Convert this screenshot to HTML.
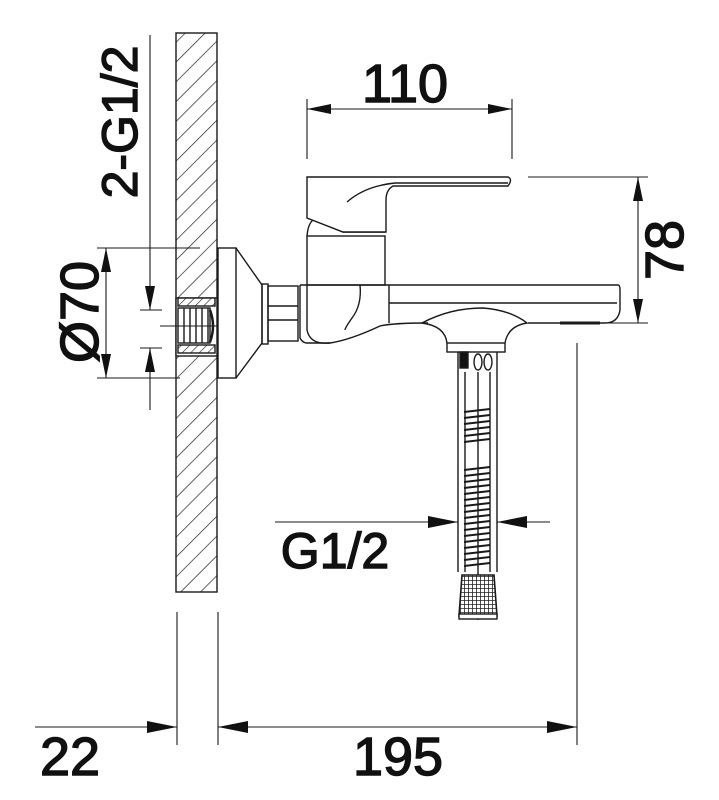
<!DOCTYPE html>
<html><head><meta charset="utf-8"><style>
html,body{margin:0;padding:0;background:#fff;}
svg{display:block;}
text{font-family:"Liberation Sans",sans-serif;fill:#111;stroke:#111;stroke-width:1.4;}
</style></head><body>
<svg width="719" height="800" viewBox="0 0 719 800" xmlns="http://www.w3.org/2000/svg">
<defs>
<pattern id="h" patternUnits="userSpaceOnUse" width="14" height="14" patternTransform="rotate(45)">
<rect width="14" height="14" fill="#fff"/><line x1="0" y1="0" x2="0" y2="14" stroke="#222" stroke-width="1.4"/>
</pattern>
<pattern id="h2" patternUnits="userSpaceOnUse" width="6" height="6" patternTransform="rotate(45)">
<rect width="6" height="6" fill="#fff"/><line x1="0" y1="0" x2="0" y2="6" stroke="#222" stroke-width="1.2"/>
</pattern>
<pattern id="mesh" patternUnits="userSpaceOnUse" width="4" height="4">
<rect width="4" height="4" fill="#fff"/><path d="M0 0H4M0 0V4" stroke="#222" stroke-width="1.6"/>
</pattern>
</defs>
<g fill="none" stroke="#1a1a1a" stroke-width="1.4">
<rect x="176" y="33" width="41" height="559" fill="url(#h)"/>
<rect x="176" y="298" width="41" height="58" fill="#fff"/>
<rect x="178" y="298" width="37" height="8" fill="url(#h2)"/>
<rect x="178" y="345" width="37" height="8" fill="url(#h2)"/>
<rect x="178" y="308" width="32" height="35" fill="#fff"/>
<path d="M184 308V343M190 308V343M196 308V343M202 308V343M208 308V343"/>
<path d="M210 310 Q216 326 210 342" stroke-width="2.5"/>
<path d="M160 326H232" stroke-width="1"/>
<rect x="218" y="248" width="18" height="130" fill="#fff"/>
<path d="M236 248 L262 285 L262 343 L236 378"/>
<rect x="262" y="284" width="6" height="60"/>
<rect x="268" y="286" width="30" height="55"/>
<path d="M268 306H298M268 320H298"/>
<path d="M300 285 H618 Q620 285 620 290 V310 Q618 323 605 323 H528"/>
<path d="M389 303 H617"/>
<path d="M300 285 V338 Q302 342 306 343 L330 343 Q350 340 380 326 Q392 323 428 323"/>
<path d="M389 285 V323"/>
<path d="M307 285 V330 Q310 345 330 343"/>
<path d="M360 285 Q362 305 352 318 Q345 328 345 330"/>
<path d="M560 323 H600" stroke-width="3"/>
<rect x="307" y="236" width="78" height="49"/>
<path d="M307 236 Q308 224 313 220 L343 232 L385 232"/>
<path d="M307 177 H508 Q513 179 508 186 H393 Q386 190 386 200 V232 L343 232 L307 218 Z" fill="#fff"/>
<path d="M347 202 Q365 186 395 183 H508"/>
<path d="M422 323 Q450 308 483 308 Q510 310 527 323 Q508 326 505 343 M422 323 Q445 326 447 343"/>
<rect x="447" y="343" width="58" height="9"/>
<path d="M458 352 V572 M497 352 V572 M465 372 V572 M490 372 V572"/>
<rect x="460" y="352" width="8" height="16" fill="#111"/>
<ellipse cx="478" cy="362" rx="4" ry="8"/><ellipse cx="488" cy="362" rx="4" ry="8"/>
<path d="M464 412l26-3M464 418l26-3M464 424l26-3M464 430l26-3M464 436l26-3M464 442l26-3M464 470l26-3M464 476l26-3M464 482l26-3M464 488l26-3M464 494l26-3M464 500l26-3M464 506l26-3M464 512l26-3M464 518l26-3M464 524l26-3M464 530l26-3M464 536l26-3M464 542l26-3M464 548l26-3M464 554l26-3M464 560l26-3M464 566l26-3" stroke-width="2"/>
<path d="M478 372 V620"/>
<path d="M462 575 H494 L497 616 H459 Z" fill="url(#mesh)" stroke-width="1.6"/>
<rect x="459" y="614" width="38" height="5" fill="#fff"/>
<g stroke-width="1.1">
<path d="M307 99V159M512 99V159M307 109H512"/>
<path d="M528 177H648M568 323H648M638 177V323"/>
<path d="M97 248H200M97 378H180M106 248V378"/>
<path d="M150 35V310M140 310H162M140 348H162M150 348V410"/>
<path d="M177 612V745M218 612V745M577 343V745M35 727H177M218 727H577"/>
<path d="M275 522H458M497 522H550"/>
</g>
</g>
<g fill="#111">
<path d="M307 109l24-5v10z M512 109l-24-5v10z"/>
<path d="M638 177l-5 24h10z M638 323l-5-24h10z"/>
<path d="M106 248l-5 24h10z M106 378l-5-24h10z"/>
<path d="M150 310l-5-24h10z M150 348l-5 24h10z"/>
<path d="M177 727l-30-6v12z M218 727l30-6v12z M577 727l-30-6v12z"/>
<path d="M458 522l-30-6v12z M497 522l30-6v12z"/>
</g>
<g font-size="54">
<text x="405" y="102" text-anchor="middle">110</text>
<text x="398" y="775" text-anchor="middle">195</text>
<text x="70" y="775" text-anchor="middle">22</text>
<text x="335" y="568" text-anchor="middle" font-size="50">G1/2</text>
<text transform="translate(683 250) rotate(-90)" text-anchor="middle">78</text>
<text transform="translate(137 122) rotate(-90)" text-anchor="middle" font-size="50">2-G1/2</text>
<text transform="translate(98 312) rotate(-90)" text-anchor="middle">Ø70</text>
</g>
</svg>
</body></html>
